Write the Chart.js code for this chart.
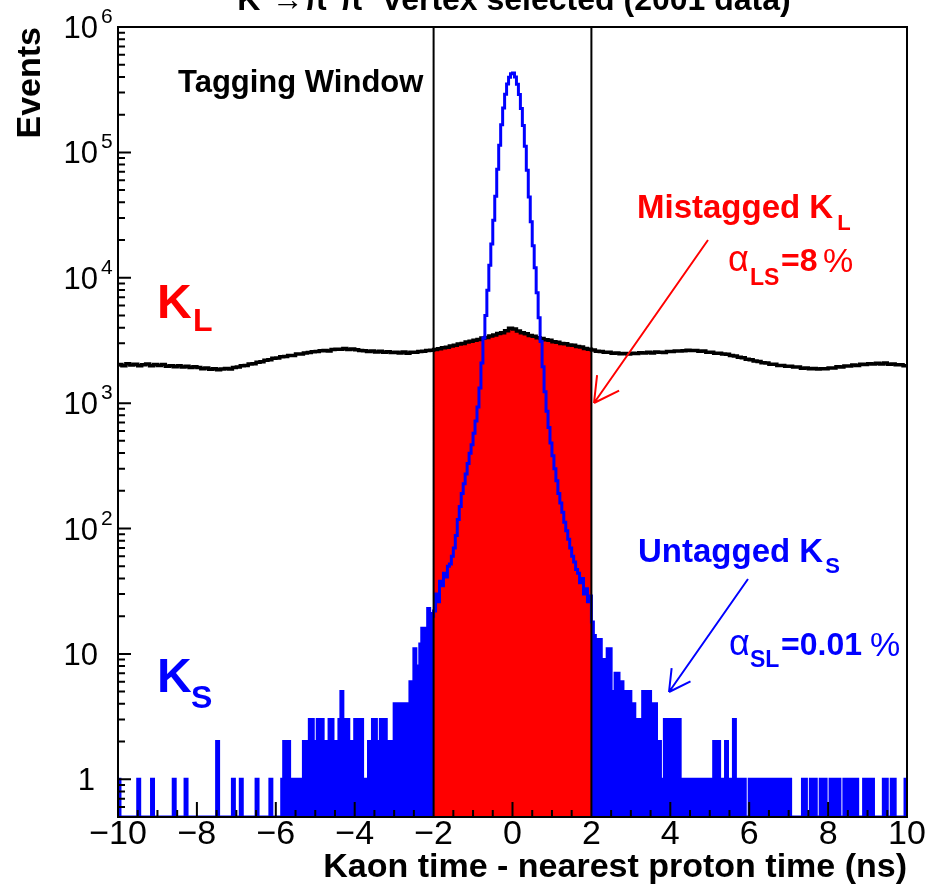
<!DOCTYPE html>
<html>
<head>
<meta charset="utf-8">
<title>Kaon time - nearest proton time</title>
<script src="https://cdn.jsdelivr.net/npm/chart.js@4.4.1/dist/chart.umd.min.js"></script>
<style>
  body { margin: 0; background: #fff; }
  #chart { display: block; }
</style>
</head>
<body>
<canvas id="chart" width="936" height="891"></canvas>
<script>
// axis ranges and ticks
const xRange = [-10, 10];
const xTickStep = 2;
const yRange = [0.5, 1e6];
const yTickValues = [1, 10, 100, 1000, 10000, 100000, 1000000];
const windowEdges = [-2, 2];

// K_L events per 0.1 ns bin, -10 .. 10 ns
const klEvents = [
  2030, 1990, 2060, 2010, 2040, 1990, 2020, 2050, 1990, 2030,
  2000, 2030, 1970, 1990, 1950, 1990, 1940, 1970, 1920, 1950,
  1920, 1880, 1910, 1860, 1880, 1850, 1870, 1890, 1870, 1920,
  1940, 1990, 2000, 2050, 2060, 2120, 2140, 2200, 2220, 2280,
  2290, 2340, 2350, 2400, 2400, 2460, 2470, 2510, 2530, 2570,
  2580, 2620, 2630, 2610, 2680, 2690, 2690, 2730, 2680, 2700,
  2670, 2630, 2620, 2580, 2610, 2560, 2590, 2540, 2570, 2530,
  2550, 2510, 2560, 2500, 2540, 2540, 2580, 2590, 2630, 2640,
  2680, 2710, 2770, 2790, 2860, 2890, 2960, 2990, 3070, 3110,
  3180, 3220, 3300, 3340, 3430, 3490, 3590, 3650, 3770, 3950,
  3900, 3760, 3640, 3570, 3470, 3410, 3320, 3280, 3200, 3170,
  3090, 3060, 2990, 2970, 2910, 2890, 2830, 2800, 2730, 2690,
  2650, 2590, 2580, 2540, 2540, 2500, 2510, 2480, 2490, 2460,
  2500, 2490, 2520, 2510, 2550, 2510, 2560, 2550, 2530, 2580,
  2580, 2610, 2610, 2620, 2640, 2630, 2630, 2590, 2600, 2550,
  2550, 2500, 2500, 2460, 2450, 2400, 2380, 2320, 2300, 2240,
  2220, 2170, 2150, 2100, 2090, 2040, 2040, 2000, 2000, 1970,
  1970, 1940, 1940, 1900, 1910, 1880, 1890, 1870, 1880, 1880,
  1910, 1910, 1950, 1940, 1980, 1980, 2010, 2000, 2040, 2030,
  2060, 2050, 2080, 2050, 2090, 2040, 2050, 2020, 2020, 1990
];

// K_S events per 0.05 ns bin, -10 .. 10 ns
const ksEvents = [
  1, 0, 0, 0, 0, 0, 0, 0, 0, 0, 1, 0, 0, 0, 0, 0, 0, 1, 0, 0,
  0, 0, 0, 0, 0, 0, 0, 0, 1, 0, 0, 0, 0, 0, 1, 0, 0, 0, 0, 0,
  0, 0, 0, 0, 0, 0, 0, 0, 0, 0, 2, 0, 0, 0, 0, 0, 0, 0, 1, 0,
  0, 0, 1, 0, 0, 0, 0, 0, 0, 0, 1, 0, 0, 0, 0, 0, 0, 1, 0, 0,
  0, 0, 0, 1, 2, 0, 2, 0, 1, 1, 1, 1, 1, 1, 2, 2, 2, 3, 3, 2,
  2, 3, 3, 3, 1, 2, 2, 3, 3, 2, 2, 1, 3, 5, 3, 3, 3, 2, 2, 2,
  3, 3, 2, 3, 1, 1, 1, 2, 2, 3, 3, 2, 2, 3, 3, 3, 2, 2, 2, 2,
  4, 4, 4, 3, 4, 4, 4, 4, 6, 6, 11, 8, 7, 12, 16, 16, 15, 23, 21, 20,
  22, 30, 26, 38, 35, 44, 41, 50, 52, 60, 70, 88, 118, 150, 190, 228, 272, 330, 398, 465,
  575, 720, 930, 1320, 2090, 3310, 5010, 7940, 12600, 18600,
  28800, 44700, 73500, 114000, 166000, 226000, 291000, 351000, 398000, 424000,
  430000, 400000, 350000, 289000, 224000, 164000, 112000, 72000, 44000, 28000,
  18000, 12000, 7600, 4800, 3100, 1950, 1230, 860, 640, 480,
  380, 300, 240, 190, 160, 135, 112, 96, 82, 70, 60, 54, 47, 44, 37, 40, 30, 33, 26, 29,
  18, 14, 13, 13, 13, 9, 9, 9, 11, 11, 5, 5, 7, 7, 6, 6, 4, 5, 5, 5,
  4, 4, 3, 3, 3, 2, 5, 5, 5, 5, 4, 4, 4, 1, 2, 1, 1, 3, 2, 3,
  3, 3, 2, 3, 3, 1, 1, 0, 1, 1, 1, 0, 1, 1, 1, 1, 0, 1, 1, 1,
  1, 1, 2, 2, 2, 1, 1, 1, 2, 1, 1, 1, 3, 1, 1, 1, 1, 1, 0, 0,
  1, 1, 1, 1, 0, 1, 1, 1, 0, 1, 1, 1, 1, 0, 1, 1, 1, 1, 0, 1,
  1, 0, 0, 0, 0, 0, 0, 1, 1, 0, 0, 1, 1, 1, 0, 0, 1, 1, 1, 0,
  0, 1, 1, 0, 1, 1, 0, 0, 1, 1, 1, 1, 0, 1, 1, 0, 0, 0, 1, 1,
  1, 1, 1, 0, 0, 0, 0, 0, 1, 1, 0, 0, 1, 1, 0, 0, 0, 0, 0, 1
];

const FONT = '"Liberation Sans", Arial, Helvetica, sans-serif';
const RED = '#ff0000';
const BLUE = '#0000ff';

// step points at bin edges; empty bins sit on the axis floor
function histPoints(values, lo, hi) {
  const w = (hi - lo) / values.length;
  const pts = values.map((v, i) => ({ x: lo + i * w, y: v > 0 ? v : yRange[0] }));
  pts.push({ x: hi, y: pts[pts.length - 1].y });
  return pts;
}

// the part of a full-range histogram between lo and hi
function slicePoints(values, lo, hi) {
  const w = (xRange[1] - xRange[0]) / values.length;
  const i0 = Math.round((lo - xRange[0]) / w);
  const i1 = Math.round((hi - xRange[0]) / w);
  return histPoints(values.slice(i0, i1), lo, hi);
}

function put(ctx, text, x, y, size, color, weight, align) {
  ctx.font = (weight || 'bold') + ' ' + size + 'px ' + FONT;
  ctx.fillStyle = color;
  ctx.textAlign = align || 'left';
  ctx.textBaseline = 'alphabetic';
  ctx.fillText(text, x, y);
}

function putSub(ctx, text, sub, x, y, size, subSize, drop, gap, color) {
  put(ctx, text, x, y, size, color);
  const w = ctx.measureText(text).width;
  put(ctx, sub, x + w + gap, y + drop, subSize, color);
}

function arrow(ctx, x1, y1, x2, y2, head, color) {
  const ang = Math.atan2(y1 - y2, x1 - x2);
  ctx.strokeStyle = color;
  ctx.lineWidth = 2;
  ctx.beginPath();
  ctx.moveTo(x1, y1);
  ctx.lineTo(x2, y2);
  [-0.5, 0.5].forEach(d => {
    ctx.moveTo(x2, y2);
    ctx.lineTo(x2 + head * Math.cos(ang + d), y2 + head * Math.sin(ang + d));
  });
  ctx.stroke();
}

// frame, ticks, window lines and the text annotations
const overlay = {
  id: 'overlay',
  afterDatasetsDraw(chart) {
    const { ctx, chartArea: a, scales: { x, y } } = chart;
    ctx.save();
    ctx.strokeStyle = '#000';
    ctx.lineWidth = 2;
    ctx.beginPath();
    windowEdges.forEach(e => {
      const px = x.getPixelForValue(e);
      ctx.moveTo(px, a.top);
      ctx.lineTo(px, a.bottom);
    });
    for (let i = 0; i <= 40; i++) {
      const px = x.getPixelForValue(xRange[0] + i * 0.5);
      ctx.moveTo(px, a.bottom);
      ctx.lineTo(px, a.bottom - (i % 4 === 0 ? 15 : 7));
    }
    for (let d = -1; d < 6; d++) {
      for (let m = 1; m <= 9; m++) {
        const v = m * Math.pow(10, d);
        if (v < yRange[0] || v > yRange[1]) continue;
        const py = y.getPixelForValue(v);
        ctx.moveTo(a.left, py);
        ctx.lineTo(a.left + (m === 1 ? 13 : 7), py);
      }
    }
    ctx.stroke();
    ctx.strokeRect(a.left, a.top, a.right - a.left, a.bottom - a.top);

    // y tick labels with superscript exponents
    yTickValues.forEach(v => {
      const py = y.getPixelForValue(v);
      const e = Math.round(Math.log10(v));
      if (e === 0) {
        put(ctx, '1', 95, py + 11, 31, '#000', 'normal', 'right');
      } else {
        put(ctx, '10', 98, py + 11, 31, '#000', 'normal', 'right');
        if (e > 1) put(ctx, String(e), 101, py - 4, 21, '#000', 'normal');
      }
    });

    put(ctx, 'K\u2070\u2192\u03c0\u207a\u03c0\u207b vertex selected (2001 data)', 514, 10, 32, '#000', 'bold', 'center');
    put(ctx, 'Tagging Window', 178, 92, 31, '#000');

    put(ctx, 'K', 157, 318, 48, RED);
    put(ctx, 'L', 193, 331, 32, RED);
    put(ctx, 'K', 157, 692, 48, BLUE);
    put(ctx, 'S', 191, 708, 32, BLUE);

    putSub(ctx, 'Mistagged K', 'L', 637, 218, 33, 22, 12, 4, RED);
    put(ctx, '\u03b1', 728, 271, 36, RED, 'normal');
    put(ctx, 'LS', 750, 285, 23, RED);
    put(ctx, '=8', 781, 271, 32, RED);
    put(ctx, '%', 823, 272, 34, RED, 'normal');
    arrow(ctx, 708, 240, 594, 403, 28, RED);

    putSub(ctx, 'Untagged K', 'S', 638, 562, 33, 22, 11, 2, BLUE);
    put(ctx, '\u03b1', 729, 655, 36, BLUE, 'normal');
    put(ctx, 'SL', 750, 667, 23, BLUE);
    put(ctx, '=0.01', 781, 655, 32, BLUE);
    put(ctx, '%', 870, 656, 34, BLUE, 'normal');
    arrow(ctx, 748, 579, 669, 692, 24, BLUE);
    ctx.restore();
  }
};

const fillStyle = { borderColor: 'rgba(0,0,0,0)', borderWidth: 0, stepped: true, pointRadius: 0, fill: 'start' };

new Chart(document.getElementById('chart'), {
  type: 'line',
  data: {
    datasets: [
      {
        label: 'K_S',
        data: histPoints(ksEvents, xRange[0], xRange[1]),
        borderColor: BLUE,
        borderWidth: 3,
        stepped: true,
        pointRadius: 0,
        fill: false,
        order: 1
      },
      {
        label: 'K_L',
        data: histPoints(klEvents, xRange[0], xRange[1]),
        borderColor: '#000',
        borderWidth: 3.5,
        stepped: true,
        pointRadius: 0,
        fill: false,
        order: 2
      },
      Object.assign({
        label: 'Mistagged K_L',
        data: slicePoints(klEvents, windowEdges[0], windowEdges[1]),
        backgroundColor: RED,
        order: 3
      }, fillStyle),
      Object.assign({
        label: 'Untagged K_S (left)',
        data: slicePoints(ksEvents, xRange[0], windowEdges[0]),
        backgroundColor: BLUE,
        order: 4
      }, fillStyle),
      Object.assign({
        label: 'Untagged K_S (right)',
        data: slicePoints(ksEvents, windowEdges[1], xRange[1]),
        backgroundColor: BLUE,
        order: 4
      }, fillStyle)
    ]
  },
  options: {
    responsive: false,
    animation: false,
    events: [],
    layout: { padding: { top: 27, right: 29, left: 0, bottom: 0 } },
    plugins: { legend: { display: false }, tooltip: { enabled: false } },
    scales: {
      x: {
        type: 'linear',
        min: xRange[0],
        max: xRange[1],
        grid: { display: false, drawTicks: false },
        border: { display: false },
        ticks: {
          stepSize: xTickStep,
          autoSkip: false,
          maxRotation: 0,
          padding: 1,
          color: '#000',
          font: { family: FONT, size: 34, lineHeight: 1 },
          callback: v => (v < 0 ? '\u2212' + (-v) : String(v))
        },
        title: {
          display: true,
          text: 'Kaon time - nearest proton time (ns)',
          align: 'end',
          color: '#000',
          font: { family: FONT, size: 34, weight: 'bold' },
          padding: { top: 0, bottom: 3 }
        },
        afterFit: s => { s.height = 74; }
      },
      y: {
        type: 'logarithmic',
        min: yRange[0],
        max: yRange[1],
        grid: { display: false, drawTicks: false },
        border: { display: false },
        ticks: { display: false },
        title: {
          display: true,
          text: 'Events',
          align: 'end',
          color: '#000',
          font: { family: FONT, size: 34, weight: 'bold' },
          padding: { top: 10, bottom: 0 }
        },
        afterFit: s => { s.width = 118; }
      }
    }
  },
  plugins: [overlay]
});
</script>
</body>
</html>
